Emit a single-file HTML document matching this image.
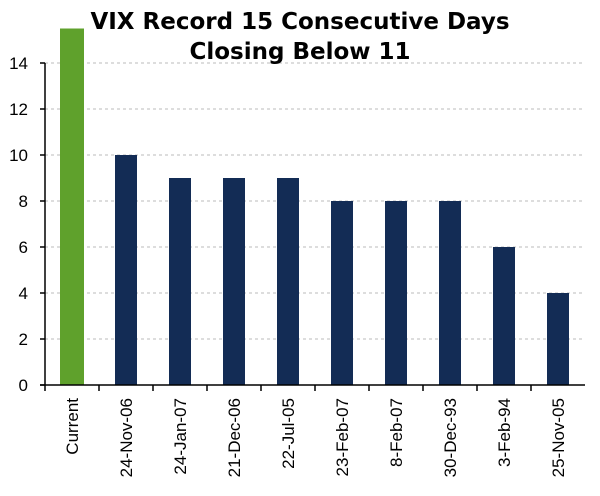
<!DOCTYPE html>
<html><head><meta charset="utf-8"><style>
html,body{margin:0;padding:0;background:#fff;}
svg{display:block;font-family:"Liberation Sans",sans-serif;}
</style></head><body>
<svg id="chart" width="600" height="496" viewBox="0 0 600 496">
<g id="grid"></g>
<g id="bars"></g>
<g id="axes"></g>
<g id="labels"></g>
<text x="300" y="29" text-anchor="middle" font-family="'DejaVu Sans',sans-serif" font-weight="bold" font-size="23" fill="#000">VIX Record 15 Consecutive Days</text>
<text x="300" y="59" text-anchor="middle" font-family="'DejaVu Sans',sans-serif" font-weight="bold" font-size="23" fill="#000">Closing Below 11</text>
</svg>
<script>
const categories = ["Current","24-Nov-06","24-Jan-07","21-Dec-06","22-Jul-05","23-Feb-07","8-Feb-07","30-Dec-93","3-Feb-94","25-Nov-05"];
const values = [15.5,10,9,9,9,8,8,8,6,4];
const yTicks = [0,2,4,6,8,10,12,14];

const NS="http://www.w3.org/2000/svg";
const x0=45, bandW=54, y0=385, pxPerUnit=23;
const xBand=i=>x0+i*bandW;
const yPos=v=>y0-v*pxPerUnit;
function mk(tag,attrs,parent){const e=document.createElementNS(NS,tag);for(const k in attrs)e.setAttribute(k,attrs[k]);parent.appendChild(e);return e;}
const grid=document.getElementById('grid'),bars=document.getElementById('bars'),axes=document.getElementById('axes'),labels=document.getElementById('labels');
const xEnd=xBand(categories.length);
yTicks.forEach(t=>{
  if(t>0){const g=mk('line',{x1:x0,x2:xEnd,y1:yPos(t),y2:yPos(t),stroke:'#bbb','stroke-dasharray':'3,3','stroke-width':1},grid);
  
  }
  const tk=mk('line',{x1:x0-5,x2:x0,y1:yPos(t),y2:yPos(t),stroke:'#000','stroke-width':1.5},axes);
  
  
  const tx=mk('text',{x:x0-17,y:yPos(t)+6,'text-anchor':'end','font-size':17,fill:'#000'},labels);
  tx.textContent=t;
  
  
});
categories.forEach((c,i)=>{
  const w=i===0?24:22;
  const cx=xBand(i)+bandW/2;
  const r=mk('rect',{x:cx-w/2,y:yPos(values[i]),width:w,height:y0-yPos(values[i]),fill:i===0?'#5fa12c':'#132c55'},bars);
  
  
  const tk=mk('line',{x1:xBand(i),x2:xBand(i),y1:y0,y2:y0+6,stroke:'#000','stroke-width':1.5},axes);
  
  
  const t=mk('text',{x:0,y:0,'text-anchor':'end','font-size':17,fill:'#000',transform:`translate(${cx+6},398) rotate(-90)`},labels);
  t.textContent=c;
  
  
});
const ya=mk('line',{x1:x0,x2:x0,y1:yPos(14),y2:y0,stroke:'#000','stroke-width':1.5},axes);


const xa=mk('line',{x1:x0-5,x2:xEnd,y1:y0,y2:y0,stroke:'#000','stroke-width':1.5},axes);


</script>
</body></html>
